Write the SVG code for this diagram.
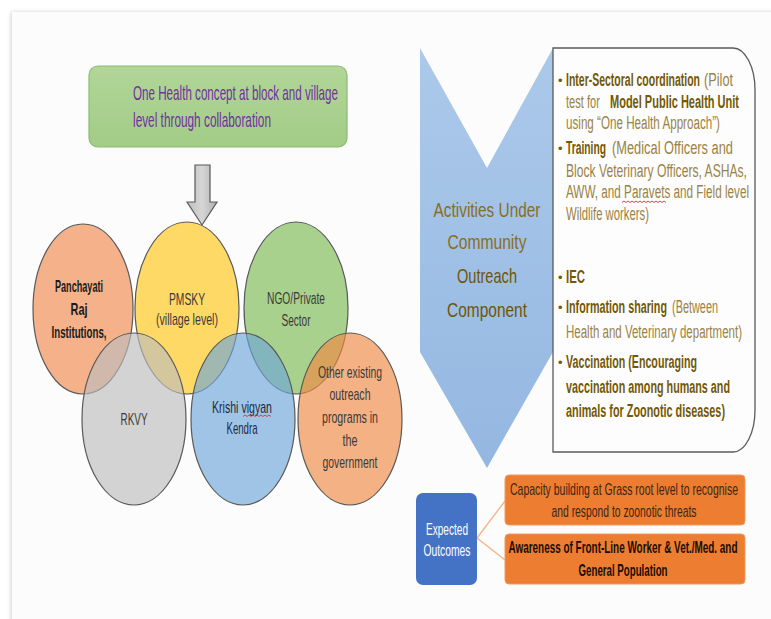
<svg xmlns="http://www.w3.org/2000/svg" width="771" height="619" viewBox="0 0 771 619">
<defs>
<filter id="shadow" x="-5%" y="-5%" width="110%" height="110%">
<feGaussianBlur in="SourceAlpha" stdDeviation="2"/>
<feOffset dx="-1" dy="0"/>
<feComponentTransfer><feFuncA type="linear" slope="0.18"/></feComponentTransfer>
<feMerge><feMergeNode/><feMergeNode in="SourceGraphic"/></feMerge>
</filter>
<linearGradient id="chev" x1="0" y1="0" x2="0" y2="1">
<stop offset="0" stop-color="#abc9ea"/>
<stop offset="1" stop-color="#94b7e1"/>
</linearGradient>
<linearGradient id="grayArrow" x1="0" y1="0" x2="1" y2="0">
<stop offset="0" stop-color="#bdbdbd"/>
<stop offset="0.5" stop-color="#d6d6d6"/>
<stop offset="1" stop-color="#b0b0b0"/>
</linearGradient>
<linearGradient id="greenBox" x1="0" y1="0" x2="0" y2="1">
<stop offset="0" stop-color="#b1d698"/>
<stop offset="1" stop-color="#a3cc87"/>
</linearGradient>
<style>
text{font-family:"Liberation Sans Narrow","Liberation Sans",Arial,sans-serif}
.ell{stroke:#595959;stroke-width:1.2}
.ctext{font-size:17px;fill:#3a3a3a;text-anchor:middle}
.bx{font-size:18px}
.b{font-weight:bold;fill:#735805}
.n{fill:#9a8244}
.bul{font-size:13px;fill:#735805}
.sq{fill:none;stroke:#e0303a;stroke-width:0.9}
</style>
</defs>

<rect x="0" y="0" width="771" height="619" fill="#ffffff"/>
<rect x="12" y="12" width="780" height="620" fill="#fcfcfc" filter="url(#shadow)"/>

<g id="connectors">
<path d="M195,165 H210 V202 H217 L202,225 L187,202 H195 Z" fill="url(#grayArrow)" stroke="#595959" stroke-width="1.2"/>
<line x1="477" y1="538" x2="505" y2="501" stroke="#f4b183" stroke-width="1.3"/>
<line x1="477" y1="538" x2="505" y2="560" stroke="#f4b183" stroke-width="1.3"/>
</g>

<g id="one-health">
<rect x="89" y="66" width="258" height="81" rx="9" fill="url(#greenBox)" stroke="#8cbb70" stroke-width="1.2"/>
<text x="133" y="100" font-size="21" fill="#7030a0" textLength="205" lengthAdjust="spacingAndGlyphs">One Health concept at block and village</text>
<text x="133" y="127" font-size="21" fill="#7030a0" textLength="138" lengthAdjust="spacingAndGlyphs">level through collaboration</text>
</g>

<g id="panchayati">
<ellipse class="ell" cx="83" cy="309" rx="50" ry="85" fill="#f4b18a"/>
<text class="ctext" x="79" y="292" font-weight="bold" style="fill:#1a1a1a" textLength="48" lengthAdjust="spacingAndGlyphs">Panchayati</text>
<text class="ctext" x="79" y="315" font-weight="bold" style="fill:#1a1a1a" textLength="17" lengthAdjust="spacingAndGlyphs">Raj</text>
<text class="ctext" x="79" y="338" font-weight="bold" style="fill:#1a1a1a" textLength="55" lengthAdjust="spacingAndGlyphs">Institutions,</text>
</g>

<g id="pmsky">
<ellipse class="ell" cx="187" cy="308" rx="52" ry="86" fill="#ffd966"/>
<text class="ctext" x="187" y="305" textLength="36" lengthAdjust="spacingAndGlyphs">PMSKY</text>
<text class="ctext" x="187" y="325" textLength="62" lengthAdjust="spacingAndGlyphs">(village level)</text>
</g>

<g id="ngo">
<ellipse class="ell" cx="296" cy="308" rx="52" ry="86" fill="#a9d18e"/>
<text class="ctext" x="296" y="304" textLength="58" lengthAdjust="spacingAndGlyphs">NGO/Private</text>
<text class="ctext" x="296" y="326" textLength="29" lengthAdjust="spacingAndGlyphs">Sector</text>
</g>

<g id="rkvy">
<ellipse class="ell" cx="134" cy="419" rx="52" ry="86" fill="#bdbdbd" fill-opacity="0.65"/>
<text class="ctext" x="134" y="425" textLength="27" lengthAdjust="spacingAndGlyphs">RKVY</text>
</g>

<g id="krishi">
<ellipse class="ell" cx="243" cy="419" rx="52" ry="86" fill="#6ea6da" fill-opacity="0.65"/>
<text class="ctext" x="242" y="413" style="fill:#1f2a44" textLength="60" lengthAdjust="spacingAndGlyphs">Krishi vigyan</text>
<text class="ctext" x="242" y="434" style="fill:#1f2a44" textLength="31" lengthAdjust="spacingAndGlyphs">Kendra</text>
<path class="sq" d="M243,416.5 l2,-1.5 l2,1.5 l2,-1.5 l2,1.5 l2,-1.5 l2,1.5 l2,-1.5 l2,1.5 l2,-1.5 l2,1.5 l2,-1.5 l2,1.5 l2,-1.5 l2,1.5"/>
</g>

<g id="other-programs">
<ellipse class="ell" cx="350" cy="419" rx="52" ry="86" fill="#f08942" fill-opacity="0.65"/>
<text class="ctext" x="350" y="378" textLength="64" lengthAdjust="spacingAndGlyphs">Other existing</text>
<text class="ctext" x="350" y="400" textLength="41" lengthAdjust="spacingAndGlyphs">outreach</text>
<text class="ctext" x="350" y="423" textLength="56" lengthAdjust="spacingAndGlyphs">programs in</text>
<text class="ctext" x="350" y="446" textLength="15" lengthAdjust="spacingAndGlyphs">the</text>
<text class="ctext" x="350" y="468" textLength="55" lengthAdjust="spacingAndGlyphs">government</text>
</g>

<g id="activities">
<path d="M420,48 L487,168 L553,48 V352 L487,468 L420,352 Z" fill="url(#chev)"/>
<text x="487" y="217" font-size="21" fill="#8a6d1e" text-anchor="middle" textLength="107" lengthAdjust="spacingAndGlyphs">Activities Under</text>
<text x="487" y="249" font-size="21" fill="#8a6d1e" text-anchor="middle" textLength="79" lengthAdjust="spacingAndGlyphs">Community</text>
<text x="487" y="283" font-size="21" fill="#6f5503" text-anchor="middle" textLength="60" lengthAdjust="spacingAndGlyphs">Outreach</text>
<text x="487" y="317" font-size="21" fill="#6f5503" text-anchor="middle" textLength="80" lengthAdjust="spacingAndGlyphs">Component</text>
</g>

<g id="activity-list">
<path d="M553,48 H733 A22,42 0 0 1 755,90 V410 A22,42 0 0 1 733,452 H553 Z" fill="#fdfdfd" stroke="#5a5a5a" stroke-width="1.3"/>
<text class="bul" x="558" y="85">•</text>
<text class="bx b" x="566" y="86" textLength="134" lengthAdjust="spacingAndGlyphs">Inter-Sectoral coordination</text>
<text class="bx n" x="704" y="86" textLength="29" lengthAdjust="spacingAndGlyphs">(Pilot</text>
<text class="bx n" x="566" y="108" textLength="34" lengthAdjust="spacingAndGlyphs">test for</text>
<text class="bx b" x="610" y="108" textLength="129" lengthAdjust="spacingAndGlyphs">Model Public Health Unit</text>
<text class="bx n" x="566" y="129" textLength="154" lengthAdjust="spacingAndGlyphs">using “One Health Approach”)</text>
<text class="bul" x="558" y="153">•</text>
<text class="bx b" x="566" y="154" textLength="40" lengthAdjust="spacingAndGlyphs">Training</text>
<text class="bx n" x="612" y="154" textLength="121" lengthAdjust="spacingAndGlyphs">(Medical Officers and</text>
<text class="bx n" x="566" y="177" textLength="181" lengthAdjust="spacingAndGlyphs">Block Veterinary Officers, ASHAs,</text>
<text class="bx n" x="566" y="198" textLength="183" lengthAdjust="spacingAndGlyphs">AWW, and Paravets and Field level</text>
<path class="sq" d="M622,202.5 l2,-1.5 l2,1.5 l2,-1.5 l2,1.5 l2,-1.5 l2,1.5 l2,-1.5 l2,1.5 l2,-1.5 l2,1.5 l2,-1.5 l2,1.5 l2,-1.5 l2,1.5 l2,-1.5 l2,1.5 l2,-1.5 l2,1.5 l2,-1.5 l2,1.5 l2,-1.5 l2,1.5"/>
<text class="bx n" x="566" y="220" textLength="83" lengthAdjust="spacingAndGlyphs">Wildlife workers)</text>
<text class="bul" x="558" y="282">•</text>
<text class="bx b" x="566" y="283" textLength="19" lengthAdjust="spacingAndGlyphs">IEC</text>
<text class="bul" x="558" y="312">•</text>
<text class="bx b" x="566" y="313" textLength="101" lengthAdjust="spacingAndGlyphs">Information sharing</text>
<text class="bx n" x="672" y="313" textLength="46" lengthAdjust="spacingAndGlyphs">(Between</text>
<text class="bx n" x="566" y="338" textLength="176" lengthAdjust="spacingAndGlyphs">Health and Veterinary department)</text>
<text class="bul" x="558" y="367">•</text>
<text class="bx b" x="566" y="368" textLength="131" lengthAdjust="spacingAndGlyphs">Vaccination (Encouraging</text>
<text class="bx b" x="566" y="393" textLength="164" lengthAdjust="spacingAndGlyphs">vaccination among humans and</text>
<text class="bx b" x="566" y="417" textLength="159" lengthAdjust="spacingAndGlyphs">animals for Zoonotic diseases)</text>
</g>

<g id="expected-outcomes">
<rect x="416" y="493" width="61" height="92" rx="7" fill="#4472c4"/>
<text x="447" y="535" font-size="17" fill="#ffffff" text-anchor="middle" textLength="42" lengthAdjust="spacingAndGlyphs">Expected</text>
<text x="447" y="556" font-size="17" fill="#ffffff" text-anchor="middle" textLength="47" lengthAdjust="spacingAndGlyphs">Outcomes</text>
</g>

<g id="capacity-building">
<rect x="505" y="475" width="240" height="50" rx="4" fill="#ed7d31" stroke="#f19a5c" stroke-width="1"/>
<text x="624" y="495" font-size="17" fill="#3b2614" text-anchor="middle" textLength="228" lengthAdjust="spacingAndGlyphs">Capacity building at Grass root level to recognise</text>
<text x="624" y="517" font-size="17" fill="#3b2614" text-anchor="middle" textLength="145" lengthAdjust="spacingAndGlyphs">and respond to zoonotic threats</text>
</g>

<g id="awareness">
<rect x="505" y="534" width="240" height="50" rx="4" fill="#ed7d31" stroke="#f19a5c" stroke-width="1"/>
<text x="623" y="553" font-size="17" font-weight="bold" fill="#1a0d05" text-anchor="middle" textLength="229" lengthAdjust="spacingAndGlyphs">Awareness of Front-Line Worker &amp; Vet./Med. and</text>
<text x="623" y="576" font-size="17" font-weight="bold" fill="#1a0d05" text-anchor="middle" textLength="89" lengthAdjust="spacingAndGlyphs">General Population</text>
</g>
</svg>
